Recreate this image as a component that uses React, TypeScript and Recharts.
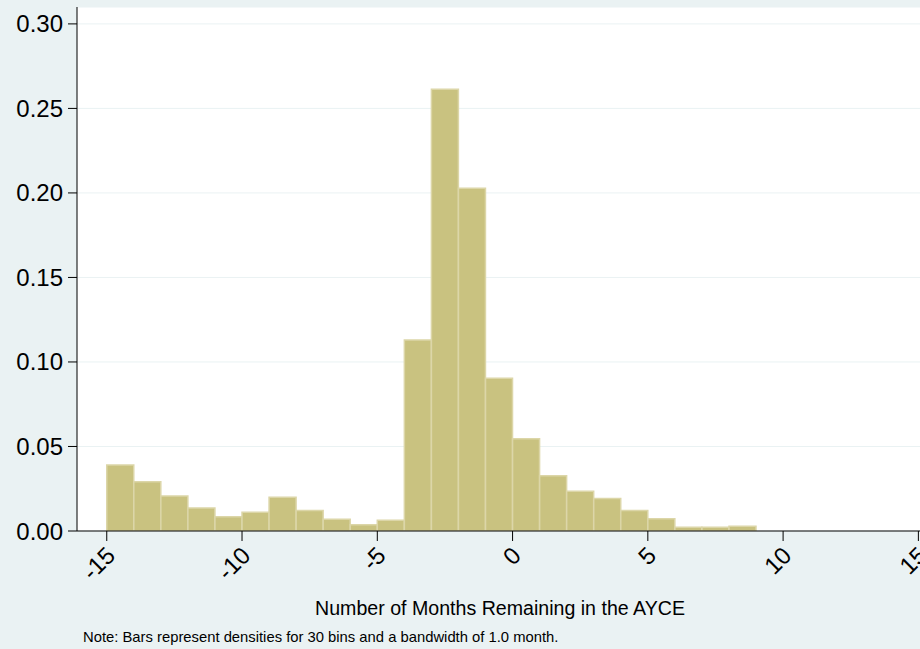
import { Bar, BarChart, CartesianGrid, XAxis, YAxis } from "recharts";

// histogram bins, one month wide; value stored at the bin midpoint
const binMid = [
  -14.5, -13.5, -12.5, -11.5, -10.5, -9.5, -8.5, -7.5, -6.5, -5.5, -4.5, -3.5,
  -2.5, -1.5, -0.5, 0.5, 1.5, 2.5, 3.5, 4.5, 5.5, 6.5, 7.5, 8.5,
];
const density = [
  0.0391, 0.0292, 0.0207, 0.0136, 0.0085, 0.0111, 0.0199, 0.0122, 0.0069, 0.0037,
  0.0063, 0.113, 0.2614, 0.2028, 0.0903, 0.0546, 0.0327, 0.0235, 0.0193, 0.0122,
  0.0073, 0.0022, 0.0022, 0.0028,
];
const xTicks = [-15, -10, -5, 0, 5, 10, 15];
const yTicks = [0, 0.05, 0.1, 0.15, 0.2, 0.25, 0.3];

const xTitle = "Number of Months Remaining in the AYCE";
const note = "Note: Bars represent densities for 30 bins and a bandwidth of 1.0 month.";

const data = binMid.map((m, i) => ({ mid: m, density: density[i] }));

const FONT = "'Liberation Sans', Arial, sans-serif";

function AngledTick(props: any) {
  const { x, y, payload } = props;
  return (
    <g transform={`translate(${x + 4},${y + 8})`}>
      <text
        x={0}
        y={0}
        dy="0.35em"
        textAnchor="end"
        transform="rotate(-45)"
        fontSize={24}
        fontFamily={FONT}
        fill="#000"
      >
        {payload.value}
      </text>
    </g>
  );
}

export default function App() {
  return (
    <div style={{ position: "relative", width: 920, height: 649, background: "#EAF2F3" }}>
      <style>{`body{margin:0}`}</style>
      <BarChart
        width={920}
        height={649}
        data={data}
        margin={{ top: 7, right: 0, left: 0, bottom: 0 }}
      >
        <CartesianGrid vertical={false} stroke="#EAF2F3" fill="#FFFFFF" fillOpacity={1} />
        <XAxis
          dataKey="mid"
          type="number"
          domain={[-16.1, 15.06]}
          ticks={xTicks}
          allowDataOverflow
          height={118}
          tickSize={10}
          tickLine={{ stroke: "#000" }}
          axisLine={{ stroke: "#000" }}
          tick={<AngledTick />}
          interval={0}
        />
        <YAxis
          type="number"
          domain={[0, 0.31]}
          ticks={yTicks}
          allowDataOverflow
          width={77}
          tickSize={9}
          tickMargin={5}
          tickLine={{ stroke: "#000" }}
          axisLine={{ stroke: "#000" }}
          tickFormatter={(v) => Number(v).toFixed(2)}
          tick={{ fontSize: 24, fontFamily: FONT, fill: "#000" }}
          interval={0}
        />
        <Bar
          dataKey="density"
          barSize={27}
          fill="#C9C280"
          stroke="#DCD6A8"
          strokeWidth={1.5}
          isAnimationActive={false}
        />
      </BarChart>
      <svg
        width={920}
        height={649}
        style={{ position: "absolute", left: 0, top: 0, pointerEvents: "none" }}
      >
        <text x={500} y={615} textAnchor="middle" fontSize={19.6} fontFamily={FONT} fill="#000">
          {xTitle}
        </text>
        <text x={83} y={642} fontSize={14.8} fontFamily={FONT} fill="#000">
          {note}
        </text>
      </svg>
    </div>
  );
}
